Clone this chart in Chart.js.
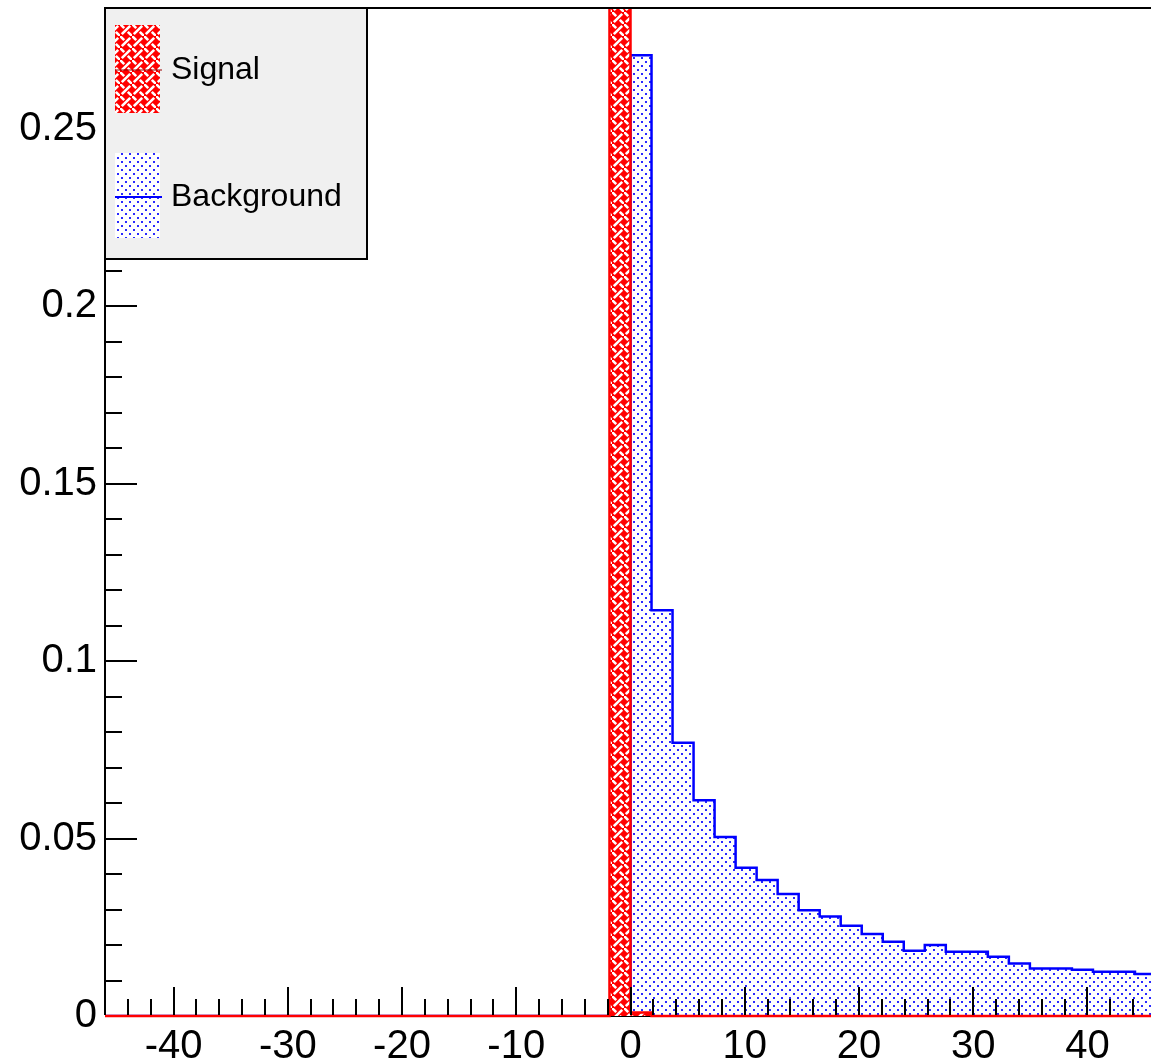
<!DOCTYPE html>
<html>
<head>
<meta charset="utf-8">
<script src="https://cdn.jsdelivr.net/npm/chart.js@4.4.1/dist/chart.umd.min.js"></script>
<style>
  html, body { margin: 0; padding: 0; overflow: hidden; background: #fff; }
  #wrap { width: 1157px; height: 1064px; }
</style>
</head>
<body>
<div id="wrap"><canvas id="c" width="1157" height="1064"></canvas></div>
<script>
"use strict";

// axis ranges (ROOT frame)
const xMin = -46;
const xMax = 46;
const yMin = 0;
const yMax = 0.284;
const binWidth = 1.84;

// signal histogram: low edges of non-empty bins and contents
const sigBinLow = [-1.84, 0];
const sigValues = [0.999, 0.001];

// background histogram
const bgBinLow = [0, 1.84, 3.68, 5.52, 7.36, 9.2, 11.04, 12.88, 14.72, 16.56,
  18.4, 20.24, 22.08, 23.92, 25.76, 27.6, 29.44, 31.28, 33.12, 34.96,
  36.8, 38.64, 40.48, 42.32, 44.16];
const bgValues = [0.2707, 0.1143, 0.0770, 0.0608, 0.0504, 0.0418, 0.0383, 0.0344, 0.0298, 0.0280,
  0.0254, 0.0231, 0.0209, 0.0184, 0.0200, 0.0181, 0.0181, 0.0167, 0.0148, 0.0134,
  0.0134, 0.0130, 0.0125, 0.0125, 0.0118];

const seriesNames = ["Signal", "Background"];

// ticks
const xTickVals = [-40, -30, -20, -10, 0, 10, 20, 30, 40];
const yTickVals = [0, 0.05, 0.1, 0.15, 0.2, 0.25];
const yTickLabels = ["0", "0.05", "0.1", "0.15", "0.2", "0.25"];
const xMinorStep = 2;
const yMinorStep = 0.01;

Chart.defaults.font.family = "'Liberation Sans', Arial, Helvetica, sans-serif";

function toSteps(low, vals) {
  const pts = [{ x: xMin, y: 0 }];
  for (let i = 0; i < low.length; i++) pts.push({ x: low[i], y: vals[i] });
  const hi = low[low.length - 1] + binWidth;
  pts.push({ x: hi, y: 0 });
  if (hi < xMax - 1e-6) pts.push({ x: xMax, y: 0 });
  return pts;
}

function makeWeave() {
  const t = document.createElement("canvas");
  t.width = 12; t.height = 12;
  const g = t.getContext("2d");
  g.fillStyle = "#ff0000";
  g.fillRect(0, 0, 12, 12);
  g.strokeStyle = "#ffffff";
  g.lineWidth = 2.6;
  g.lineCap = "butt";
  g.beginPath();
  // "\" broken at centre, "/" broken at corners
  g.moveTo(-1, -1); g.lineTo(4.2, 4.2);
  g.moveTo(7.8, 7.8); g.lineTo(13, 13);
  g.moveTo(10.2, 1.8); g.lineTo(1.8, 10.2);
  g.stroke();
  return g.createPattern(t, "repeat");
}

function makeDots() {
  const t = document.createElement("canvas");
  t.width = 8; t.height = 8;
  const g = t.getContext("2d");
  g.fillStyle = "#ffffff";
  g.fillRect(0, 0, 8, 8);
  g.fillStyle = "#2a2aff";
  g.fillRect(1, 1, 2, 2);
  g.fillRect(5, 5, 2, 2);
  return g.createPattern(t, "repeat");
}

const weave = makeWeave();
const dots = makeDots();

function near(a, b) { return Math.abs(a - b) < 1e-6; }

const rootFrame = {
  id: "rootFrame",
  beforeDatasetsDraw(chart) {
    const { ctx, chartArea: a } = chart;
    ctx.save();
    ctx.strokeStyle = "#000";
    ctx.lineWidth = 2;
    ctx.beginPath();
    ctx.moveTo(a.left, a.bottom);
    ctx.lineTo(a.right, a.bottom);
    ctx.stroke();
    ctx.restore();
  },
  afterDatasetsDraw(chart) {
    const { ctx, chartArea: a, scales: { x, y } } = chart;
    ctx.save();
    ctx.strokeStyle = "#000";
    ctx.lineWidth = 2;
    ctx.beginPath();
    // x ticks, pointing up
    const x0 = Math.ceil(xMin / xMinorStep) * xMinorStep;
    for (let v = x0; v <= xMax + 1e-9; v += xMinorStep) {
      if (near(v, xMin) || near(v, xMax)) continue;
      const major = xTickVals.some((t) => near(t, v));
      const px = Math.round(x.getPixelForValue(v));
      ctx.moveTo(px, a.bottom - 1);
      ctx.lineTo(px, a.bottom - (major ? 29 : 17));
    }
    // y ticks, pointing right
    const n = Math.floor((yMax - yMin) / yMinorStep + 1e-9);
    for (let i = 1; i <= n; i++) {
      const v = yMin + i * yMinorStep;
      const major = yTickVals.some((t) => near(t, v));
      const py = Math.round(y.getPixelForValue(v));
      ctx.moveTo(a.left, py);
      ctx.lineTo(a.left + (major ? 32 : 17), py);
    }
    ctx.stroke();
    // frame: top and left
    ctx.beginPath();
    ctx.moveTo(a.left, a.bottom - 1);
    ctx.lineTo(a.left, a.top);
    ctx.lineTo(a.right + 2, a.top);
    ctx.stroke();
    ctx.restore();
  },
  afterDraw(chart) {
    const { ctx, chartArea: a } = chart;
    const ds = chart.data.datasets;
    const bx = a.left, by = a.top, bw = 262, bh = 251;
    ctx.save();
    ctx.fillStyle = "#f0f0f0";
    ctx.fillRect(bx, by, bw, bh);
    ctx.strokeStyle = "#000";
    ctx.lineWidth = 2;
    ctx.strokeRect(bx, by, bw, bh);

    const rows = [62, 189];
    ds.forEach((d, i) => {
      const cy = by + rows[i];
      ctx.fillStyle = d.backgroundColor;
      if (i === 0) ctx.fillRect(bx + 10, by + 17, 45, 88);
      else ctx.fillRect(bx + 10, by + 145, 45, 85);
      ctx.strokeStyle = i === 0 ? "#990000" : d.borderColor;
      ctx.lineWidth = i === 0 ? 1 : 2;
      ctx.beginPath();
      ctx.moveTo(bx + 10, cy);
      ctx.lineTo(bx + 57, cy);
      ctx.stroke();
      ctx.fillStyle = "#000";
      ctx.font = "32px 'Liberation Sans', Arial, sans-serif";
      ctx.textAlign = "left";
      ctx.textBaseline = "middle";
      ctx.fillText(d.label, bx + 66, cy);
    });
    ctx.restore();
  }
};

new Chart(document.getElementById("c"), {
  type: "line",
  data: {
    datasets: [
      {
        label: seriesNames[0],
        data: toSteps(sigBinLow, sigValues),
        stepped: true,
        borderColor: "#ff0000",
        borderWidth: 2.5,
        backgroundColor: weave,
        fill: "origin",
        pointRadius: 0,
        clip: { left: 2, top: 0, right: 2, bottom: 3 },
      },
      {
        label: seriesNames[1],
        data: toSteps(bgBinLow, bgValues),
        stepped: true,
        borderColor: "#0000ff",
        borderWidth: 2.5,
        backgroundColor: dots,
        fill: "origin",
        pointRadius: 0,
      },
    ],
  },
  options: {
    responsive: false,
    animation: false,
    layout: { padding: { top: 8, right: 1, left: 0, bottom: 0 } },
    plugins: { legend: { display: false }, tooltip: { enabled: false } },
    scales: {
      x: {
        type: "linear",
        min: xMin,
        max: xMax,
        grid: { display: false, drawTicks: false },
        border: { display: false },
        ticks: {
          color: "#000",
          font: { size: 40 },
          padding: 7,
          maxRotation: 0,
          autoSkip: false,
          callback: (v) => String(v),
        },
        afterBuildTicks: (s) => { s.ticks = xTickVals.map((v) => ({ value: v })); },
        afterFit: (s) => { s.height = 48; s.paddingLeft = 0; s.paddingRight = 0; },
      },
      y: {
        type: "linear",
        min: yMin,
        max: yMax,
        grid: { display: false, drawTicks: false },
        border: { display: false },
        ticks: {
          color: "#000",
          font: { size: 40 },
          padding: 8,
          autoSkip: false,
          callback: (v) => {
            const i = yTickVals.findIndex((t) => near(t, v));
            return i >= 0 ? yTickLabels[i] : "";
          },
        },
        afterBuildTicks: (s) => { s.ticks = yTickVals.map((v) => ({ value: v })); },
        afterFit: (s) => { s.width = 105; s.paddingTop = 0; s.paddingBottom = 0; },
      },
    },
  },
  plugins: [rootFrame],
});
</script>
</body>
</html>
